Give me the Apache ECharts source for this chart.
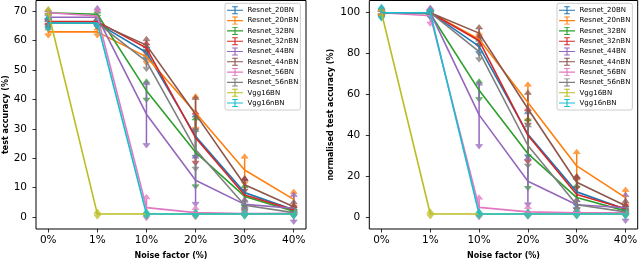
<!DOCTYPE html>
<html><head><meta charset="utf-8">
<script src="https://cdn.jsdelivr.net/npm/echarts@6/dist/echarts.min.js"></script>
<style>html,body{margin:0;padding:0;background:#fff}#c{width:640px;height:261px}</style>
</head><body><div id="c"></div>
<script>
// ---- categories / tick labels ----
const xLabels = ['0%', '1%', '10%', '20%', '30%', '40%'];
const leftTicks = [0, 10, 20, 30, 40, 50, 60, 70];
const rightTicks = [0, 20, 40, 60, 80, 100];
const names = ['Resnet_20BN','Resnet_20nBN','Resnet_32BN','Resnet_32nBN','Resnet_44BN','Resnet_44nBN','Resnet_56BN','Resnet_56nBN','Vgg16BN','Vgg16nBN'];

// ---- left panel: test accuracy (%) mean and std ----
const acc_20BN    = [66, 66, 56, 27.5, 8.3, 2.5];
const acc_20nBN   = [63, 63, 54.5, 35.5, 16, 6];
const acc_32BN    = [69.5, 69, 43, 22, 7, 2];
const acc_32nBN   = [66.5, 66.5, 57.5, 27, 7.5, 2.5];
const acc_44BN    = [68, 68, 35, 12.5, 4.3, 3];
const acc_44nBN   = [66, 66, 58.5, 35, 11, 3.5];
const acc_56BN    = [69.5, 68.4, 3.2, 1.5, 1.2, 1.3];
const acc_56nBN   = [66, 66, 53, 23, 4, 1.5];
const acc_vgg16BN = [69.7, 1, 1, 1, 1, 1];
const acc_vgg16nBN= [66, 66, 1, 1, 1, 1];

const err_20BN    = [1.2, 0.8, 1.5, 6.5, 4, 0.6];
const err_20nBN   = [0.6, 0.6, 1.5, 5, 4, 2];
const err_32BN    = [0.3, 0.3, 2.5, 11, 3, 0.5];
const err_32nBN   = [0.5, 0.5, 1, 8, 5, 0.8];
const err_44BN    = [0.5, 2.5, 10, 7.5, 1, 4];
const err_44nBN   = [0.5, 0.5, 1.5, 5, 1.5, 1];
const err_56BN    = [0.3, 1.5, 3, 1, 0.3, 0.3];
const err_56nBN   = [0.5, 0.5, 2, 6, 1, 0.5];
const err_vgg16BN = [0.5, 0.2, 0.2, 0.2, 0.2, 0.2];
const err_vgg16nBN= [1.5, 0.5, 0.2, 0.2, 0.2, 0.2];

// ---- right panel: normalised test accuracy (%) mean and std ----
const nacc_20BN    = [100, 100, 83.5, 40.5, 12.3, 3.8];
const nacc_20nBN   = [100, 100, 87, 56, 25, 9.5];
const nacc_32BN    = [100, 99.5, 62, 31, 9.5, 3];
const nacc_32nBN   = [100, 100, 86.3, 40, 11, 4];
const nacc_44BN    = [100, 100, 50, 17.5, 6, 4.5];
const nacc_44nBN   = [100, 100, 90, 53, 17, 5.5];
const nacc_56BN    = [100, 98.5, 4.7, 2.5, 2, 2];
const nacc_56nBN   = [100, 100, 81, 35, 6, 2.5];
const nacc_vgg16BN = [100, 1.5, 1.5, 1.5, 1.5, 1.5];
const nacc_vgg16nBN= [100, 100, 1.5, 1.5, 1.5, 1.5];

const nerr_20BN    = [1.5, 1, 2.5, 10, 6, 1];
const nerr_20nBN   = [1, 1, 2, 8, 6, 3];
const nerr_32BN    = [0.5, 0.5, 3.5, 16, 5, 0.7];
const nerr_32nBN   = [0.8, 0.8, 1.5, 12, 8, 1.2];
const nerr_44BN    = [0.7, 1.5, 14.5, 10.5, 1.5, 5.5];
const nerr_44nBN   = [0.7, 0.7, 2, 7, 2, 1.5];
const nerr_56BN    = [0.5, 3, 4, 1.5, 0.5, 0.5];
const nerr_56nBN   = [0.7, 0.7, 3, 9, 1.5, 0.7];
const nerr_vgg16BN = [0.7, 0.3, 0.3, 0.3, 0.3, 0.3];
const nerr_vgg16nBN= [2, 0.7, 0.3, 0.3, 0.3, 0.3];

const colors = ['#1f77b4','#ff7f0e','#2ca02c','#d62728','#9467bd','#8c564b','#e377c2','#7f7f7f','#bcbd22','#17becf'];

const leftMeans = [acc_20BN, acc_20nBN, acc_32BN, acc_32nBN, acc_44BN, acc_44nBN, acc_56BN, acc_56nBN, acc_vgg16BN, acc_vgg16nBN];
const leftErrs  = [err_20BN, err_20nBN, err_32BN, err_32nBN, err_44BN, err_44nBN, err_56BN, err_56nBN, err_vgg16BN, err_vgg16nBN];
const rightMeans = [nacc_20BN, nacc_20nBN, nacc_32BN, nacc_32nBN, nacc_44BN, nacc_44nBN, nacc_56BN, nacc_56nBN, nacc_vgg16BN, nacc_vgg16nBN];
const rightErrs  = [nerr_20BN, nerr_20nBN, nerr_32BN, nerr_32nBN, nerr_44BN, nerr_44nBN, nerr_56BN, nerr_56nBN, nerr_vgg16BN, nerr_vgg16nBN];

const FONT = 'DejaVu Sans';

function renderErr(params, api) {
  const x = api.value(0), y = api.value(1), e = api.value(2);
  const top = api.coord([x, y + e]);
  const bot = api.coord([x, y - e]);
  const c = api.visual('color');
  const w = 3.5, h = 4.5;
  const triStyle = { fill: c, stroke: c, lineWidth: 0.6, opacity: 0.75 };
  return { type: 'group', children: [
    { type: 'line', shape: { x1: top[0], y1: top[1], x2: bot[0], y2: bot[1] }, style: { stroke: c, lineWidth: 1.5 } },
    { type: 'polygon', shape: { points: [[top[0]-w, top[1]], [top[0]+w, top[1]], [top[0], top[1]-h]] }, style: triStyle },
    { type: 'polygon', shape: { points: [[bot[0]-w, bot[1]], [bot[0]+w, bot[1]], [bot[0], bot[1]+h]] }, style: triStyle }
  ]};
}

const series = [];
function addPanel(means, errs, idx) {
  names.forEach((n, i) => {
    const pts = means[i].map((v, k) => [k, v]);
    series.push({
      type: 'line', name: n, xAxisIndex: idx, yAxisIndex: idx,
      data: pts, symbol: 'none', color: colors[i],
      lineStyle: { width: 1.6, color: colors[i] }, z: 2
    });
    series.push({
      type: 'custom', name: n + '_err' + idx, xAxisIndex: idx, yAxisIndex: idx,
      data: means[i].map((v, k) => [k, v, errs[i][k]]),
      renderItem: renderErr, itemStyle: { color: colors[i] }, z: 2
    });
  });
}
addPanel(leftMeans, leftErrs, 0);
addPanel(rightMeans, rightErrs, 1);

function xAxisCfg(idx) {
  return {
    type: 'value', gridIndex: idx, min: -0.25, max: 5.25,
    axisLine: { show: false, onZero: false },
    axisTick: { show: true, inside: false, length: 3.5, lineStyle: { color: '#000', width: 0.8 }, customValues: [0,1,2,3,4,5] },
    axisLabel: { customValues: [0,1,2,3,4,5], formatter: v => xLabels[Math.round(v)], color: '#000', fontSize: 10.5, fontFamily: FONT, margin: 6 },
    splitLine: { show: false },
    name: 'Noise factor (%)', nameLocation: 'middle', nameGap: 22.5,
    nameTextStyle: { fontWeight: 'bold', fontSize: 8, fontFamily: FONT, color: '#000' }
  };
}
function yAxisCfg(idx, min, max, ticks, name, gap) {
  return {
    type: 'value', gridIndex: idx, min: min, max: max,
    axisLine: { show: false, onZero: false },
    axisTick: { show: true, inside: false, length: 3.5, lineStyle: { color: '#000', width: 0.8 }, customValues: ticks },
    axisLabel: { customValues: ticks, color: '#000', fontSize: 10.5, fontFamily: FONT, margin: 9 },
    splitLine: { show: false },
    name: name, nameLocation: 'middle', nameGap: gap,
    nameTextStyle: { fontWeight: 'bold', fontSize: 8, fontFamily: FONT, color: '#000' }
  };
}

const iconPath = 'path://M0,4.3H20V5.7H0Z M9.3,0H10.7V10H9.3Z M6.5,0H13.5V1.2H6.5Z M6.5,8.8H13.5V10H6.5Z';
function legendCfg(left, top) {
  return {
    data: names.map(n => ({ name: n, icon: iconPath })),
    orient: 'vertical', left: left, top: top,
    itemWidth: 17, itemHeight: 8, itemGap: 2.3,
    textStyle: { fontSize: 7, fontFamily: FONT, color: '#000', padding: [0,0,0,-1] },
    backgroundColor: 'rgba(255,255,255,0.8)', borderColor: '#cccccc', borderWidth: 1, borderRadius: 2,
    padding: [3, 2, 3, 2], selectedMode: false
  };
}

const chart = echarts.init(document.getElementById('c'), null, { renderer: 'canvas' });
chart.setOption({
  animation: false,
  backgroundColor: '#fff',
  grid: [
    { left: 36, top: 0.5, width: 270, height: 228.5, show: true, borderColor: '#000', borderWidth: 1, backgroundColor: 'transparent', containLabel: false, outerBoundsMode: 'none' },
    { left: 369.3, top: 0.5, width: 268.4, height: 228.5, show: true, borderColor: '#000', borderWidth: 1, backgroundColor: 'transparent', containLabel: false, outerBoundsMode: 'none' }
  ],
  xAxis: [xAxisCfg(0), xAxisCfg(1)],
  yAxis: [
    yAxisCfg(0, -4.08, 73.68, leftTicks, 'test accuracy (%)', 26.5),
    yAxisCfg(1, -5.87, 105.97, rightTicks, 'normalised test accuracy (%)', 34.5)
  ],
  legend: [legendCfg(225, 3.3), legendCfg(557, 3.3)],
  series: series
});
</script></body></html>
